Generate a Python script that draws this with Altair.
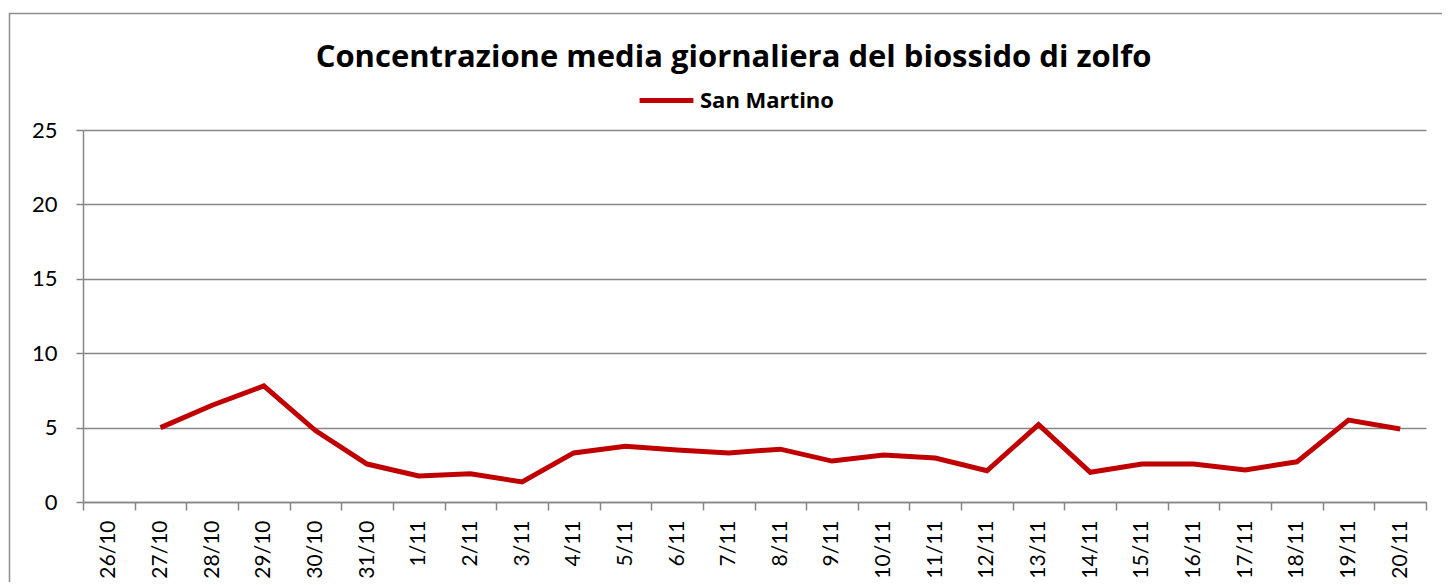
import altair as alt
import pandas as pd

categories = ["26/10", "27/10", "28/10", "29/10", "30/10", "31/10", "1/11", "2/11", "3/11",
              "4/11", "5/11", "6/11", "7/11", "8/11", "9/11", "10/11", "11/11", "12/11",
              "13/11", "14/11", "15/11", "16/11", "17/11", "18/11", "19/11", "20/11"]
dates = categories[1:]
values = [5.0, 6.5, 7.8, 4.8, 2.55, 1.75, 1.9, 1.35, 3.3, 3.75, 3.5, 3.3, 3.55, 2.75,
          3.15, 2.95, 2.1, 5.2, 2.0, 2.55, 2.55, 2.15, 2.7, 5.5, 4.9]
series = "San Martino"
title_text = "Concentrazione media giornaliera del biossido di zolfo"
y_ticks = [0, 5, 10, 15, 20, 25]

df = pd.DataFrame({"data": dates, "valore": values, "idx": list(range(len(dates))),
                   "stazione": [series] * len(dates)})

W, H = 1343, 372
FONT = "Lato"
BOLD_FONT = "Open Sans"
GRAY = "#868686"

line = alt.Chart(df).mark_line(strokeWidth=5, strokeJoin="miter").encode(
    x=alt.X("data:N", scale=alt.Scale(type="band", domain=categories, paddingInner=0, paddingOuter=0),
            axis=alt.Axis(title=None, tickBand="extent", labelAngle=270, labelAlign="right",
                          labelBaseline="middle", labelPadding=10, tickSize=8, labelFontSize=21,
                          labelFont=FONT, labelColor="#000000", domainColor=GRAY, tickColor=GRAY,
                          domainWidth=1.5, tickWidth=1.5, grid=False, labelOverlap=False)),
    y=alt.Y("valore:Q", scale=alt.Scale(domain=[0, 25], nice=False, zero=True),
            axis=alt.Axis(title=None, values=y_ticks, tickSize=7, labelPadding=19, labelFontSize=22,
                          labelFont=FONT, labelColor="#000000", domainColor=GRAY, tickColor=GRAY,
                          domainWidth=1.5, tickWidth=1.5, gridColor=GRAY, gridWidth=1.4)),
    order=alt.Order("idx:Q"),
    color=alt.Color("stazione:N", scale=alt.Scale(domain=[series], range=["#c00000"]),
                    legend=alt.Legend(title=None, orient="none", legendX=554, legendY=-59,
                                      symbolType="stroke", symbolSize=2900, symbolStrokeWidth=5,
                                      labelFont=BOLD_FONT, labelFontWeight="bold", labelFontSize=22,
                                      labelColor="#000000", labelOffset=4)),
)

frame = alt.Chart(pd.DataFrame({"f": [0]})).mark_rect(filled=False, stroke="#8c8c8c", strokeWidth=1.5).encode(
    x=alt.value(-73.5), x2=alt.value(W + 40), y=alt.value(-116.5), y2=alt.value(H + 120)
)

chart = alt.layer(frame, line).properties(
    width=W, height=H,
    autosize=alt.AutoSizeParams(type="none"),
    padding={"left": 75, "top": 122, "right": 16, "bottom": 80},
    title=alt.TitleParams(title_text, font=BOLD_FONT, fontSize=31, fontWeight="bold", color="#000000",
                          anchor="middle", frame="group", dx=-21, offset=-61),
).configure_view(strokeWidth=0)

chart.save("out.html", embed_options={"renderer": "svg", "actions": False})
